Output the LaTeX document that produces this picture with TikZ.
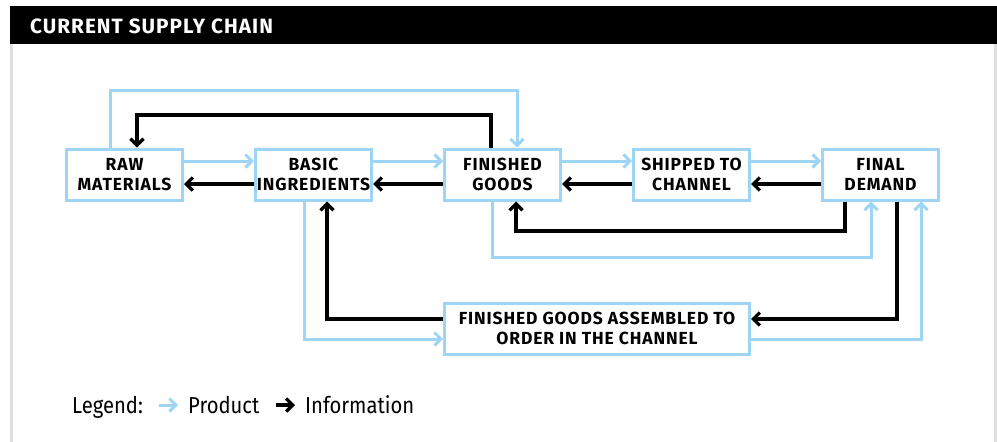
\documentclass[tikz,border=0pt]{standalone}
\usepackage{fontspec}
\setmainfont{Fira Sans}
\newfontfamily\legendfont{Fira Sans}[FakeStretch=0.88]
\newfontfamily\boxfont{Fira Sans}[LetterSpace=5]
\usetikzlibrary{arrows.meta}
\definecolor{prodblue}{RGB}{158,213,245}
\definecolor{framegray}{RGB}{224,224,224}

\begin{document}
\begin{tikzpicture}[x=1pt,y=-1pt,
  box/.style={draw=prodblue, line width=3pt, fill=white,
    minimum width=116pt, minimum height=51pt, inner sep=0pt,
    align=center, font=\boxfont\fontsize{17.5}{20.7}\selectfont\bfseries},
  prod/.style={draw=prodblue, line width=3pt,
    -{Straight Barb[length=6.5pt,width=13pt]}},
  info/.style={draw=black, line width=3.2pt,
    -{Straight Barb[length=6.5pt,width=13pt]}},
  legtext/.style={anchor=base west, inner sep=0pt,
    font=\legendfont\fontsize{23}{27}\selectfont}
]
% canvas and frame
\useasboundingbox (0,0) rectangle (997,442);
\fill[white] (0,0) rectangle (997,442);
\fill[black] (10,6) rectangle (997,44);
\draw[framegray, line width=2.5pt] (11.3,44) -- (11.3,442);
\draw[framegray, line width=2.5pt] (995.3,44) -- (995.3,442);
\node[anchor=base west, inner sep=0pt, text=white,
  font=\boxfont\fontsize{20.7}{25}\selectfont\bfseries] (title) at (30,33)
  {CURRENT SUPPLY CHAIN};

% stages of the chain
\node[box] (rm)  at (124.5,174.5) {RAW\\MATERIALS};
\node[box] (bi)  at (313.5,174.5) {BASIC\\INGREDIENTS};
\node[box] (fg)  at (502.5,174.5) {FINISHED\\GOODS};
\node[box] (sc)  at (691.5,174.5) {SHIPPED TO\\CHANNEL};
\node[box] (fd)  at (880.5,174.5) {FINAL\\DEMAND};
\node[box, minimum width=305pt] (fga) at (597,328.5)
  {FINISHED GOODS ASSEMBLED TO\\ORDER IN THE CHANNEL};

% neighbouring stages: product forward, information back
\foreach \a/\b in {rm/bi, bi/fg, fg/sc, sc/fd} {
  \draw[prod] ([yshift=13.5pt]\a.east) -- ([yshift=13.5pt]\b.west);
  \draw[info] ([yshift=-9.5pt]\b.west) -- ([yshift=-9.5pt]\a.east);
}

% loops over the top
\draw[prod] ([xshift=-14.5pt]rm.north) -- ([xshift=-14.5pt]rm.north |- 0,90)
  -| ([xshift=14.5pt]fg.north);
\draw[info] ([xshift=-11.5pt]fg.north) -- ([xshift=-11.5pt]fg.north |- 0,115)
  -| ([xshift=12.5pt]rm.north);

% loops underneath
\draw[info] ([xshift=-35.5pt]fd.south) -- ([xshift=-35.5pt]fd.south |- 0,231)
  -| ([xshift=13.5pt]fg.south);
\draw[prod] ([xshift=-10.5pt]fg.south) -- ([xshift=-10.5pt]fg.south |- 0,257)
  -| ([xshift=-9.5pt]fd.south);

% assemble-to-order path
\draw[info] ([xshift=16.5pt]fd.south) |- ([yshift=9.5pt]fga.east);
\draw[prod] ([yshift=-10.5pt]fga.east) -| ([xshift=40.5pt]fd.south);
\draw[prod] ([xshift=-9.5pt]bi.south) |- ([yshift=-10.5pt]fga.west);
\draw[info] ([yshift=9.5pt]fga.west) -| ([xshift=13.5pt]bi.south);

% legend
\node[legtext] (leg) at (72,413) {Legend:};
\coordinate (pa) at (159,405);
\coordinate (pb) at (178,405);
\draw[prod] (pa) -- (pb);
\node[legtext] (prodlab) at (188,413) {Product};
\coordinate (ia) at (276,405);
\coordinate (ib) at (295,405);
\draw[info] (ia) -- (ib);
\node[legtext] (infolab) at (305,413) {Information};
\end{tikzpicture}
\end{document}
